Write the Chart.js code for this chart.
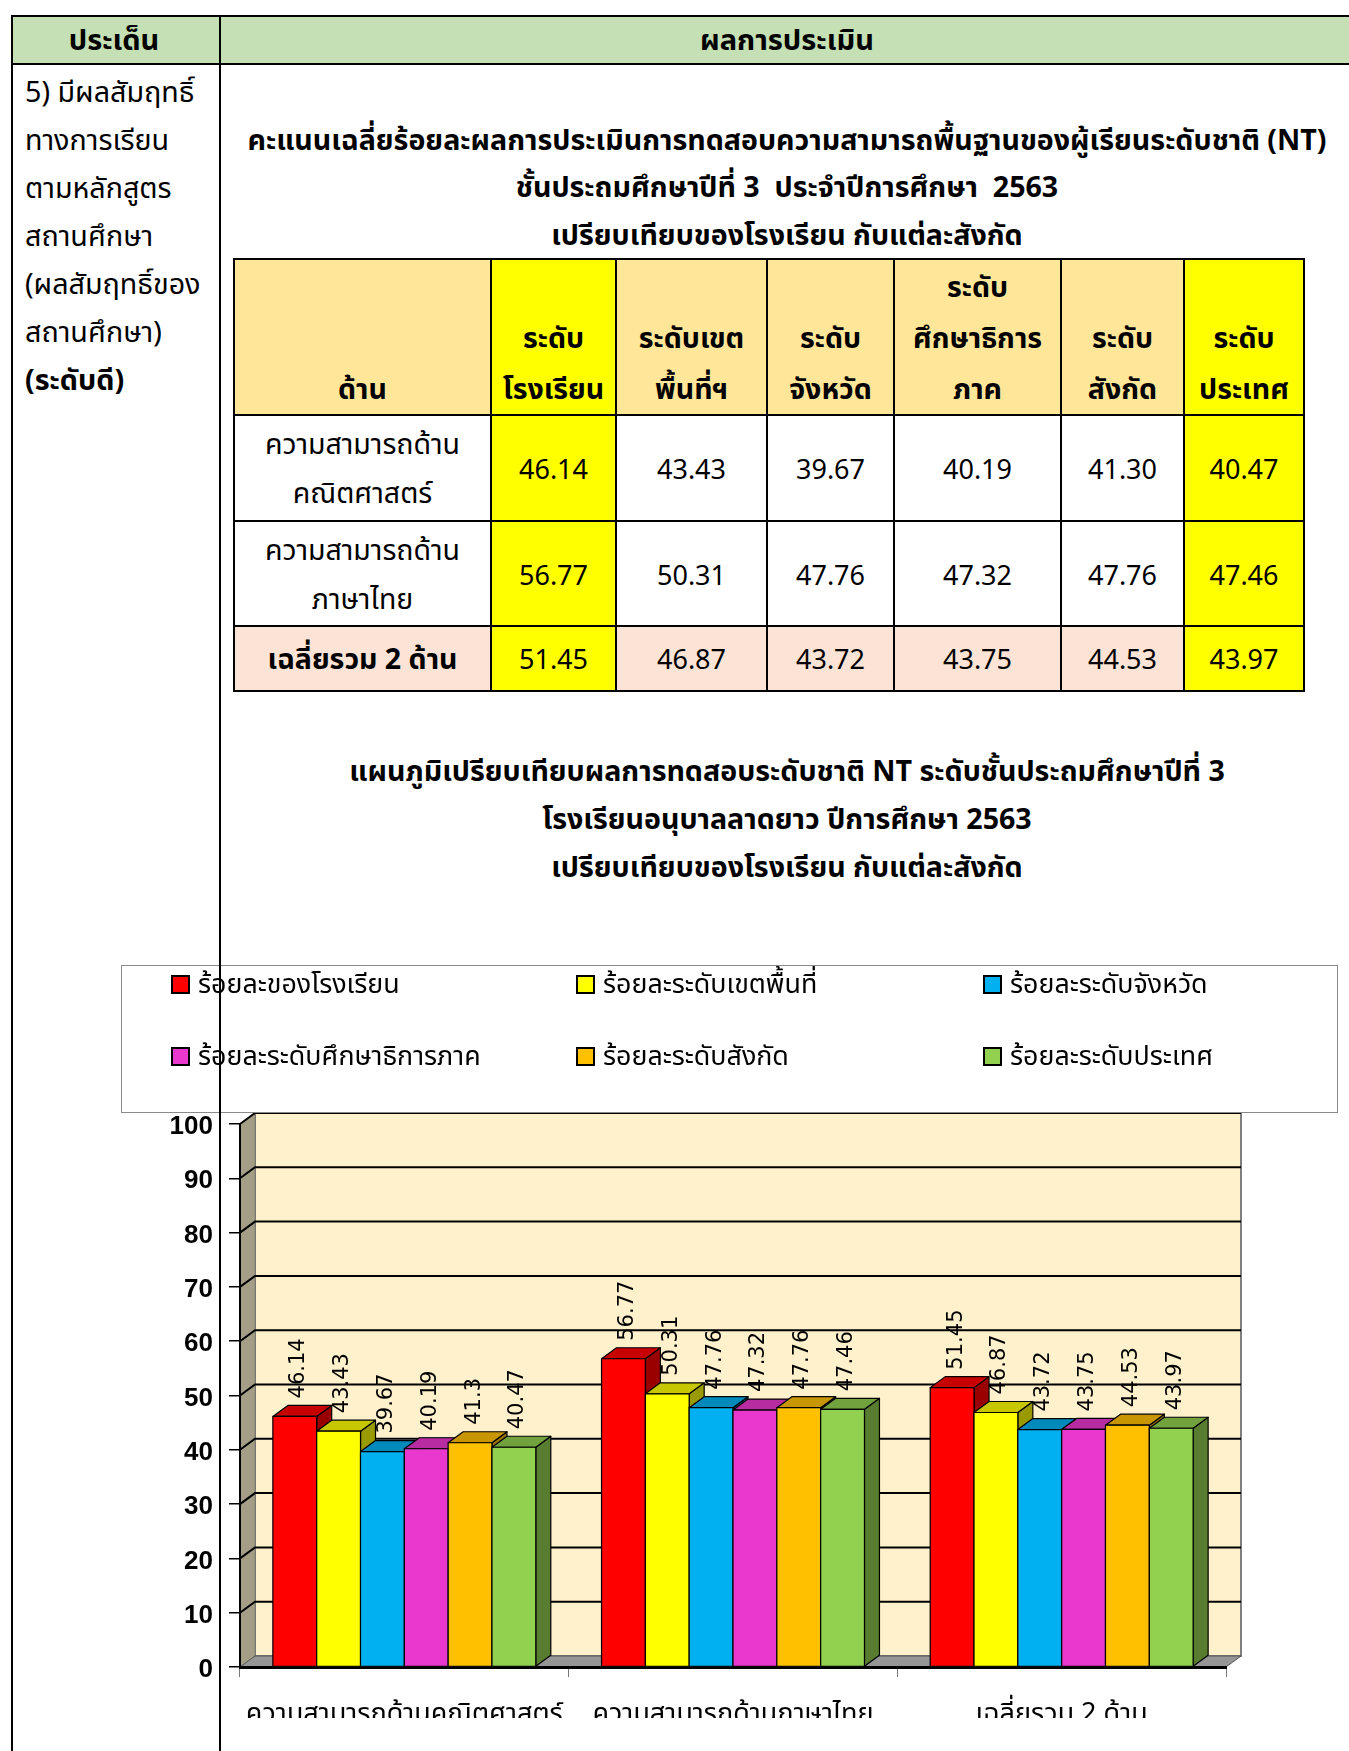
<!DOCTYPE html>
<html>
<head>
<meta charset="utf-8">
<script src="https://cdn.jsdelivr.net/npm/chart.js@4.4.1/dist/chart.umd.min.js"></script>
<style>
  body { margin:0; width:1349px; height:1751px; position:relative; overflow:hidden; background:#fff;
         font-family:"Noto Sans Thai","Noto Sans Thai UI",Loma,Garuda,"Noto Sans",sans-serif; color:#000; }
  .b { position:absolute; }
  .t { position:absolute; white-space:pre; line-height:50px; height:50px; }
  #chartBox { position:absolute; left:0; top:1080px; width:1349px; height:638px; z-index:1; }
</style>
</head>
<body>
<div id="chartBox"><canvas id="myChart" width="1349" height="638"></canvas></div>
<script>
// data
const categories = ['ความสามารถด้านคณิตศาสตร์', 'ความสามารถด้านภาษาไทย', 'เฉลี่ยรวม 2 ด้าน']
const seriesLabels = ['ร้อยละของโรงเรียน', 'ร้อยละระดับเขตพื้นที่', 'ร้อยละระดับจังหวัด',
                      'ร้อยละระดับศึกษาธิการภาค', 'ร้อยละระดับสังกัด', 'ร้อยละระดับประเทศ']
const schoolVals = [46.14, 56.77, 51.45]
const areaVals = [43.43, 50.31, 46.87]
const provinceVals = [39.67, 47.76, 43.72]
const regionVals = [40.19, 47.32, 43.75]
const affiliationVals = [41.30, 47.76, 44.53]
const nationVals = [40.47, 47.46, 43.97]
const yMax = 100, yStep = 10

const seriesVals = [schoolVals, areaVals, provinceVals, regionVals, affiliationVals, nationVals]
const seriesColors = ['#FF0000', '#FFFF00', '#00B0F0', '#EA38CE', '#FFC000', '#92D050']

// page helpers
function box(x, y, w, h, bg, z) {
    let d = document.createElement('div')
    d.className = 'b'
    d.style.left = x + 'px'; d.style.top = y + 'px'
    d.style.width = w + 'px'; d.style.height = h + 'px'
    d.style.background = bg
    if (z) d.style.zIndex = z
    document.body.appendChild(d)
    return d
}
function text(s, x, y, size, bold, center, z) {
    let d = document.createElement('div')
    d.className = 't'
    d.textContent = s
    d.style.fontSize = size + 'px'
    d.style.fontWeight = bold ? 'bold' : 'normal'
    d.style.left = x + 'px'
    d.style.top = (y - 25) + 'px'
    if (center) d.style.transform = 'translateX(-50%)'
    if (z) d.style.zIndex = z
    document.body.appendChild(d)
    return d
}

// outer table
box(13, 17, 1340, 46, '#C5E0B4')
box(11, 15, 1340, 2, '#000', 10)
box(11, 63, 1340, 2, '#000', 10)
box(11, 15, 2, 1736, '#000', 10)
box(219, 15, 2, 1736, '#000', 10)
text('ประเด็น', 114, 41, 29, true, true)
text('ผลการประเมิน', 787, 41, 29, true, true)

const leftLines = ['5) มีผลสัมฤทธิ์', 'ทางการเรียน', 'ตามหลักสูตร', 'สถานศึกษา', '(ผลสัมฤทธิ์ของ', 'สถานศึกษา)', '(ระดับดี)']
leftLines.forEach((s, i) => text(s, 25, 94 + i * 48, 28.7, i === 6, false))

text('คะแนนเฉลี่ยร้อยละผลการประเมินการทดสอบความสามารถพื้นฐานของผู้เรียนระดับชาติ (NT)', 787, 142, 28.6, true, true)
text('ชั้นประถมศึกษาปีที่ 3  ประจำปีการศึกษา  2563', 787, 189, 28.6, true, true)
text('เปรียบเทียบของโรงเรียน กับแต่ละสังกัด', 787, 237, 28.6, true, true)

// score table
const xs = [234, 491, 616, 767, 894, 1061, 1184, 1304]
const ys = [259, 415, 521, 626, 691]
const heads = [['ด้าน'], ['ระดับ', 'โรงเรียน'], ['ระดับเขต', 'พื้นที่ฯ'], ['ระดับ', 'จังหวัด'],
               ['ระดับ', 'ศึกษาธิการ', 'ภาค'], ['ระดับ', 'สังกัด'], ['ระดับ', 'ประเทศ']]
const rowNames = [['ความสามารถด้าน', 'คณิตศาสตร์'], ['ความสามารถด้าน', 'ภาษาไทย'], ['เฉลี่ยรวม 2 ด้าน']]
const rowFill = ['#FFE699', '#FFFFFF', '#FFFFFF', '#FBE4D5']

for (let r = 0; r < 4; r++) {
    for (let c = 0; c < 7; c++) {
        let bg = (c === 1 || c === 6) ? '#FFFF00' : rowFill[r]
        box(xs[c], ys[r], xs[c + 1] - xs[c], ys[r + 1] - ys[r], bg)
    }
}
xs.forEach(x => box(x - 1, ys[0] - 1, 2, ys[4] - ys[0] + 2, '#000'))
ys.forEach(y => box(xs[0] - 1, y - 1, xs[7] - xs[0] + 2, 2, '#000'))

heads.forEach((lines, c) => {
    let cx = (xs[c] + xs[c + 1]) / 2
    lines.forEach((s, k) => text(s, cx, 391 - (lines.length - 1 - k) * 51, 28.5, true, true))
})
const rowMid = [471, 577, 661]
rowNames.forEach((lines, r) => {
    let cx = (xs[0] + xs[1]) / 2
    if (lines.length === 2) {
        text(lines[0], cx, rowMid[r] - 25, 28.5, false, true)
        text(lines[1], cx, rowMid[r] + 24, 28.5, false, true)
    } else {
        text(lines[0], cx, rowMid[r], 28.5, true, true)
    }
    seriesVals.forEach((vals, c) => {
        text(vals[r].toFixed(2), (xs[c + 1] + xs[c + 2]) / 2, rowMid[r], 27, false, true)
    })
})

// chart title
text('แผนภูมิเปรียบเทียบผลการทดสอบระดับชาติ NT ระดับชั้นประถมศึกษาปีที่ 3', 787, 773, 28.6, true, true)
text('โรงเรียนอนุบาลลาดยาว ปีการศึกษา 2563', 787, 821, 28.6, true, true)
text('เปรียบเทียบของโรงเรียน กับแต่ละสังกัด', 787, 869, 28.6, true, true)

// legend
let lg = box(121, 965, 1215, 146, 'transparent', 2)
lg.style.border = '1px solid #8a8a8a'
const legX = [171, 576, 983], legY = [984, 1056]
seriesLabels.forEach((s, i) => {
    let lx = legX[i % 3], ly = legY[Math.floor(i / 3)]
    let sq = box(lx, ly - 9, 15, 15, seriesColors[i], 3)
    sq.style.border = '2px solid #000'
    text(s, lx + 27, ly + 1, 26.8, false, false, 3)
})

// 3d chart
const DX = 15, DY = -11

function shade(hex, f) {
    let n = parseInt(hex.slice(1), 16)
    let r = Math.round(((n >> 16) & 255) * f), g = Math.round(((n >> 8) & 255) * f), b = Math.round((n & 255) * f)
    return 'rgb(' + r + ',' + g + ',' + b + ')'
}
function poly(ctx, pts, fill) {
    ctx.beginPath()
    ctx.moveTo(pts[0][0], pts[0][1])
    for (let k = 1; k < pts.length; k++) ctx.lineTo(pts[k][0], pts[k][1])
    ctx.closePath()
    ctx.fillStyle = fill
    ctx.fill()
    ctx.stroke()
}

const walls = {
    id: 'walls',
    beforeDraw(chart) {
        const ctx = chart.ctx, a = chart.chartArea, y = chart.scales.y
        ctx.save()
        ctx.fillStyle = '#FFF1CC'
        ctx.fillRect(a.left + DX, a.top + DY, a.right - a.left, a.bottom - a.top)
        ctx.strokeStyle = '#7f7f7f'; ctx.lineWidth = 2
        ctx.strokeRect(a.left + DX, a.top + DY, a.right - a.left, a.bottom - a.top)
        ctx.lineWidth = 0.5; ctx.strokeStyle = '#6b6657'
        poly(ctx, [[a.left, a.top], [a.left + DX, a.top + DY], [a.left + DX, a.bottom + DY], [a.left, a.bottom]], '#A59E86')
        ctx.strokeStyle = '#000'; ctx.lineWidth = 2
        y.ticks.forEach(t => {
            if (t.value === 0) return
            let py = y.getPixelForValue(t.value)
            ctx.beginPath()
            ctx.moveTo(a.left, py)
            ctx.lineTo(a.left + DX, py + DY)
            ctx.lineTo(a.right + DX, py + DY)
            ctx.stroke()
        })
        ctx.lineWidth = 1; ctx.strokeStyle = '#555'
        poly(ctx, [[a.left, a.bottom], [a.right, a.bottom], [a.right + DX, a.bottom + DY], [a.left + DX, a.bottom + DY]], '#969696')
        ctx.restore()
    },
    afterDatasetsDraw(chart) {
        const ctx = chart.ctx
        ctx.save()
        ctx.strokeStyle = '#000'; ctx.lineWidth = 1.2; ctx.lineJoin = 'round'
        chart.data.labels.forEach((lab, i) => {
            chart.data.datasets.forEach((ds, d) => {
                const p = chart.getDatasetMeta(d).data[i].getProps(['x', 'y', 'base', 'width'], true)
                const x0 = p.x - p.width / 2, x1 = p.x + p.width / 2
                poly(ctx, [[x1, p.y], [x1 + DX, p.y + DY], [x1 + DX, p.base + DY], [x1, p.base]], shade(ds.backgroundColor, 0.6))
                poly(ctx, [[x0, p.y], [x1, p.y], [x1 + DX, p.y + DY], [x0 + DX, p.y + DY]], shade(ds.backgroundColor, 0.78))
                poly(ctx, [[x0, p.y], [x1, p.y], [x1, p.base], [x0, p.base]], ds.backgroundColor)
            })
        })
        // value labels
        ctx.font = '21px "DejaVu Sans"'
        ctx.fillStyle = '#000'
        ctx.textAlign = 'left'
        ctx.textBaseline = 'middle'
        chart.data.datasets.forEach((ds, d) => {
            chart.getDatasetMeta(d).data.forEach((bar, i) => {
                ctx.save()
                ctx.translate(bar.x + 4, bar.y + DY - 7)
                ctx.rotate(-Math.PI / 2)
                ctx.fillText(String(ds.data[i]), 0, 0)
                ctx.restore()
            })
        })
        ctx.restore()
    }
}

const ctx = document.getElementById('myChart').getContext('2d')
const myChart = new Chart(ctx, {
    type: 'bar',
    data: {
        labels: categories,
        datasets: seriesLabels.map((s, i) => ({
            label: s,
            data: seriesVals[i],
            backgroundColor: seriesColors[i],
            borderColor: '#000',
            borderWidth: 1,
            categoryPercentage: 0.8,
            barPercentage: 1.0
        }))
    },
    options: {
        responsive: false,
        animation: false,
        devicePixelRatio: 1,
        layout: { autoPadding: false, padding: { top: 44, right: 123, left: 0, bottom: 0 } },
        plugins: { legend: { display: false }, tooltip: { enabled: false } },
        scales: {
            x: {
                grid: { drawOnChartArea: false, color: '#777', lineWidth: 1, tickLength: 10, offset: true },
                border: { color: '#000', width: 3 },
                ticks: { color: '#000', padding: 23, maxRotation: 0,
                         font: { family: '"Noto Sans Thai", Loma, Garuda, sans-serif', size: 27, weight: 'normal' } },
                afterFit: scale => { scale.height = 51 }
            },
            y: {
                min: 0, max: yMax,
                grid: { drawOnChartArea: false, color: '#000', lineWidth: 1.5, tickLength: 11 },
                border: { color: '#000', width: 2 },
                ticks: { stepSize: yStep, color: '#000', padding: 16, labelOffset: 3,
                         font: { family: '"Liberation Sans", Arial, sans-serif', size: 26, weight: 'bold' } },
                afterFit: scale => { scale.width = 240 }
            }
        }
    },
    plugins: [walls]
})
</script>
</body>
</html>
